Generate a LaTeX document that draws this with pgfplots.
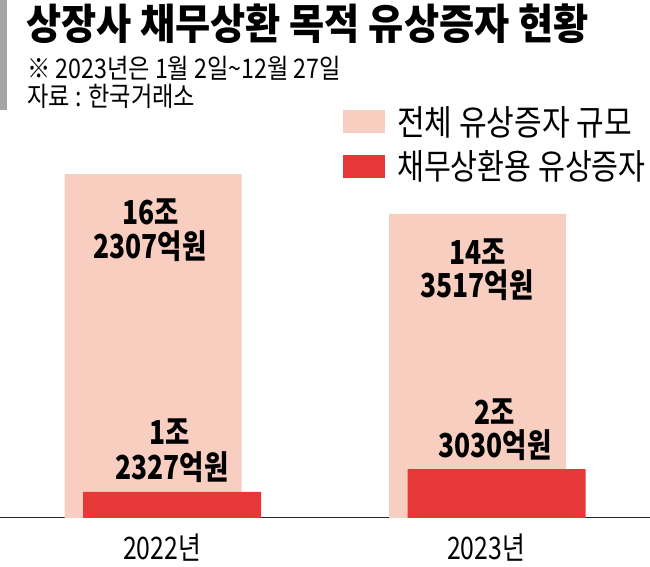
\documentclass[border=0pt]{standalone}
\usepackage{pgfplots}
\pgfplotsset{compat=1.18}
\usepackage{fontspec}
\setmainfont{Noto Sans CJK KR}
\newfontfamily\krc[FakeStretch=0.86]{Noto Sans CJK KR}
\newfontfamily\krl[FakeStretch=0.835]{Noto Sans CJK KR}
\newfontfamily\krt[FakeStretch=0.91]{Noto Sans CJK KR}
\newfontfamily\krn[FakeStretch=0.80]{Noto Sans CJK KR}
\definecolor{pinkbar}{RGB}{247,206,192}
\definecolor{redbar}{RGB}{230,57,55}
\definecolor{graybar}{RGB}{165,165,165}
\begin{document}
\begin{tikzpicture}[x=1pt,y=1pt]
\useasboundingbox (0,0) rectangle (650,567);
\begin{axis}[at={(0pt,49pt)}, anchor=south west, scale only axis,
  width=650pt, height=400pt, xmin=0, xmax=650, ymin=0, ymax=18.877,
  axis x line*=bottom, axis y line=none,
  x axis line style={black!85, line width=1pt},
  xtick={162,486}, xticklabels={2022년,2023년},
  major tick length=0pt, xtick style={draw=none},
  xticklabel style={font=\krn\fontsize{31}{31}\selectfont, anchor=center, yshift=-30pt},
  clip=false]
\addplot[ybar, bar width=177, bar shift=0pt, fill=pinkbar, draw=none] coordinates {(153,16.2307) (477.5,14.3517)};
\addplot[ybar, bar width=178, bar shift=0pt, fill=redbar, draw=none] coordinates {(172,1.2327) (496.5,2.3030)};
\end{axis}
\fill[graybar] (0,567) rectangle (7,457);
\node[anchor=west, inner sep=0, font=\krt\bfseries\fontsize{42}{42}\selectfont] at (26,543) {상장사 채무상환 목적 유상증자 현황};
\node[anchor=west, inner sep=0, font=\krc\fontsize{27}{27}\selectfont] at (27,499) {※ 2023년은 1월 2일\textasciitilde 12월 27일};
\node[anchor=west, inner sep=0, font=\krc\fontsize{27}{27}\selectfont] at (27,471) {자료 : 한국거래소};
\fill[pinkbar] (343,457) rectangle (385,434);
\fill[redbar] (343,412) rectangle (385,389);
\node[anchor=west, inner sep=0, font=\krc\fontsize{35}{35}\selectfont] at (397,445) {전체 유상증자 규모};
\node[anchor=west, inner sep=0, font=\krl\fontsize{35}{35}\selectfont] at (397,401) {채무상환용 유상증자};
\begin{scope}[every node/.style={inner sep=0, font=\krn\bfseries\fontsize{33}{33}\selectfont}]
\node at (151,355) {16조};
\node at (150,321) {2307억원};
\node at (478,315) {14조};
\node at (477,282) {3517억원};
\node at (170,135) {1조};
\node at (172,100) {2327억원};
\node at (495,155) {2조};
\node at (495,122) {3030억원};
\end{scope}
\end{tikzpicture}
\end{document}
